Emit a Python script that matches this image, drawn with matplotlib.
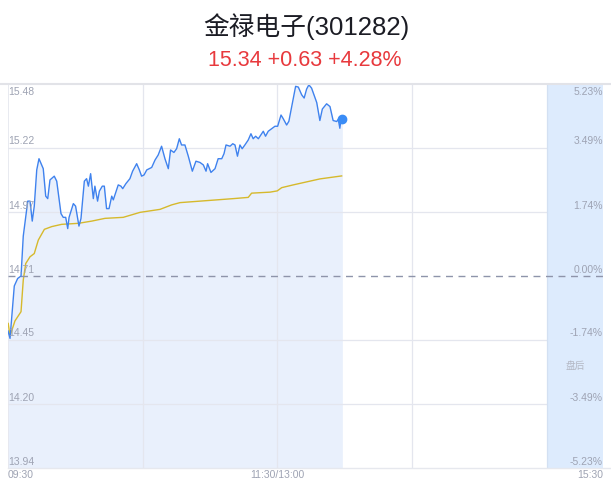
import matplotlib
matplotlib.use('Agg')
import matplotlib.pyplot as plt
from matplotlib.lines import Line2D

plt.rcParams['font.family'] = ['Liberation Sans', 'Noto Sans CJK SC', 'DejaVu Sans']

# stock info
title = '金禄电子(301282)'
subtitle = '15.34 +0.63 +4.28%'
prev_close = 14.71

# tick labels (price left, percent right)
pct_ticks = [5.23, 3.49, 1.74, 0.0, -1.74, -3.49, -5.23]
price_labels = ['15.48', '15.22', '14.97', '14.71', '14.45', '14.20', '13.94']
pct_labels = ['5.23%', '3.49%', '1.74%', '0.00%', '-1.74%', '-3.49%', '-5.23%']
time_labels = ['09:30', '11:30/13:00', '15:30']

# intraday price, minutes since 09:30
minutes = [0, 0.9, 2.8, 4.3, 5.8, 6.8, 8.8, 9.8, 10.8, 11.7, 12.8, 13.8, 15.7, 16.8,
           17.7, 18.7, 20.6, 21.7, 23.6, 24.6, 25.7, 26.6, 27.2, 29.1, 30.1, 31.6,
           32.5, 34.0, 35.0, 35.8, 36.8, 38.0, 38.7, 39.9, 40.7, 42.0, 42.9, 43.9,
           45.0, 46.2, 46.9, 49.1, 50.3, 51.1, 52.5, 54.3, 55.5, 57.3, 58.5, 59.5,
           60.6, 61.8, 64.0, 65.5, 66.9, 68.4, 69.9, 71.4, 72.4, 73.9, 75.1, 76.3,
           77.3, 78.8, 80.3, 82.1, 83.7, 85.5, 87.0, 88.2, 88.9, 90.4, 92.2, 93.6,
           95.2, 96.2, 97.1, 98.9, 100.1, 101.1, 102.2, 103.3, 104.3, 105.5, 107.0,
           108.2, 109.2, 110.3, 111.5, 113.7, 114.7, 115.9, 117.4, 118.9, 120.1,
           121.6, 122.6, 124.1, 125.1, 126.6, 128.1, 129.3, 130.8, 131.9, 133.0,
           134.0, 135.2, 137.5, 138.9, 140.0, 141.9, 143.4, 144.8, 146.4, 147.1,
           147.8, 148.3, 148.9]
price = [14.49, 14.46, 14.67, 14.70, 14.71, 14.87, 15.01, 15.01, 14.93, 14.99, 15.135,
         15.18, 15.14, 15.03, 15.02, 15.095, 15.11, 15.09, 14.96, 14.945, 14.945,
         14.90, 14.945, 15.00, 14.99, 14.91, 14.94, 15.09, 15.10, 15.07, 15.12,
         15.02, 15.07, 15.01, 15.05, 15.07, 15.07, 14.98, 14.98, 15.03, 15.015,
         15.075, 15.07, 15.06, 15.08, 15.10, 15.13, 15.16, 15.135, 15.11, 15.115,
         15.135, 15.145, 15.175, 15.195, 15.23, 15.18, 15.14, 15.215, 15.205, 15.22,
         15.26, 15.235, 15.235, 15.19, 15.13, 15.17, 15.165, 15.155, 15.13, 15.16,
         15.125, 15.14, 15.18, 15.18, 15.20, 15.235, 15.23, 15.24, 15.235, 15.19,
         15.235, 15.22, 15.235, 15.255, 15.28, 15.26, 15.27, 15.26, 15.29, 15.27,
         15.29, 15.30, 15.31, 15.31, 15.355, 15.34, 15.315, 15.33, 15.40, 15.47,
         15.467, 15.436, 15.423, 15.459, 15.476, 15.463, 15.405, 15.333, 15.379,
         15.40, 15.389, 15.333, 15.329, 15.338, 15.302, 15.336, 15.34]

# average price line
avg_minutes = [0.1, 0.9, 3.1, 5.8, 6.8, 7.9, 9.8, 11.7, 13.5, 16.2, 19.5, 23.9, 31.3,
               37.3, 43.2, 51.3, 58.8, 67.7, 72.9, 76.6, 85.5, 100.3, 107.0, 108.5,
               116.7, 119.9, 121.9, 127.0, 138.9, 148.6]
avg_price = [14.52, 14.47, 14.53, 14.567, 14.694, 14.76, 14.787, 14.80, 14.854, 14.897,
             14.908, 14.917, 14.921, 14.93, 14.941, 14.945, 14.965, 14.977, 14.995,
             15.004, 15.01, 15.02, 15.025, 15.042, 15.046, 15.051, 15.064, 15.075,
             15.099, 15.111]

W, H = 611, 492
fig = plt.figure(figsize=(W / 100, H / 100), dpi=100)
ax = fig.add_axes([8 / W, 24 / H, 595 / W, 384 / H])

y_top = prev_close * (1 + pct_ticks[0] / 100)
y_bot = prev_close * (1 + pct_ticks[-1] / 100)
ax.set_xlim(0, 265)
ax.set_ylim(y_bot, y_top)
ax.axis('off')

grid_c = '#e4e6ee'
for p in pct_ticks[1:-1]:
    if p == 0:
        continue
    ax.axhline(prev_close * (1 + p / 100), color=grid_c, lw=0.9, zorder=2)
for m in [60, 120, 180]:
    ax.axvline(m, color=grid_c, lw=0.9, zorder=2)
ax.axvline(0, color=grid_c, lw=1.2, zorder=2)

# after-hours band
ax.axvspan(240, 265, color='#ddebfd', lw=0, zorder=3)
ax.axvline(240, color='#d3e0f2', lw=0.9, zorder=3)

ax.fill_between(minutes, price, y_bot, color='#e9f0fc', lw=0, zorder=1)
ax.plot(minutes, price, color='#3f82ee', lw=1.0, zorder=5)
ax.plot(avg_minutes, avg_price, color='#d6b92c', lw=1.0, zorder=4)
ax.plot(minutes[-1], price[-1], 'o', color='#3a8cf6', ms=6, zorder=6)

ax.axhline(prev_close, color='#8e94aa', lw=1.0, ls=(0, (5, 4)), zorder=4)

lab_c = '#9ea3b3'
for i, p in enumerate(pct_ticks):
    yv = prev_close * (1 + p / 100)
    va = 'top' if i == 0 else 'bottom'
    off = -2 if i == 0 else 1
    ax.annotate(price_labels[i], (0, yv), xytext=(0, off), textcoords='offset points',
                ha='left', va=va, fontsize=7.5, color=lab_c, zorder=7)
    ax.annotate(pct_labels[i], (265, yv), xytext=(0, off), textcoords='offset points',
                ha='right', va=va, fontsize=7.5, color=lab_c, zorder=7)

ax.text(252.5, 0.266, '盘后', transform=ax.get_xaxis_transform(), ha='center',
        va='center', fontsize=7, color='#b3b7c3', zorder=7)

ax.text(0, -0.005, time_labels[0], transform=ax.get_xaxis_transform(), ha='left',
        va='top', fontsize=7.5, color=lab_c)
ax.text(120, -0.005, time_labels[1], transform=ax.get_xaxis_transform(), ha='center',
        va='top', fontsize=7.5, color=lab_c)
ax.text(265, -0.005, time_labels[2], transform=ax.get_xaxis_transform(), ha='right',
        va='top', fontsize=7.5, color=lab_c)

# frame lines
fig.add_artist(Line2D([0, 1], [1 - 84 / H, 1 - 84 / H], color='#e2e3e8', lw=1.5))
fig.add_artist(Line2D([8 / W, 1], [24 / H, 24 / H], color='#e6e8ee', lw=1.0))

fig.text(306 / W, 1 - 27 / H, title, ha='center', va='center', fontsize=18.5,
         color='#1b1c24')
fig.text(305 / W, 1 - 61 / H, subtitle, ha='center', va='center', fontsize=15.5,
         color='#e8393d')

fig.savefig('out.png', dpi=100)
